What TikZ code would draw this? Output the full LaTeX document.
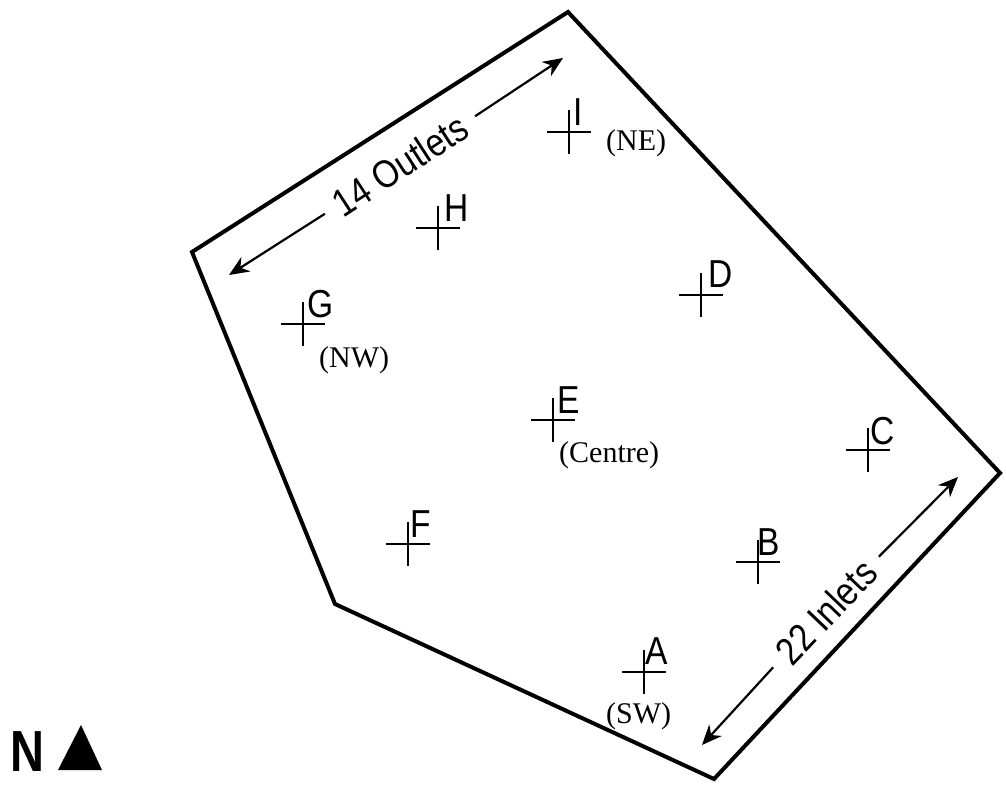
\documentclass[tikz,border=0pt]{standalone}
\usepackage{fontspec}
\setmainfont{Liberation Serif}
\setsansfont{Liberation Sans}
\usetikzlibrary{arrows.meta,positioning}

\begin{document}
\begin{tikzpicture}[
    x=1pt, y=-1pt,
    wall/.style={line width=4pt, line join=miter},
    site/.style={line width=1.8pt},
    letter/.style={font=\sffamily\fontsize{39}{39}\selectfont, inner sep=0pt, anchor=base west, xscale=0.86},
    where/.style={font=\fontsize{30}{30}\selectfont, inner sep=0pt, anchor=base west},
    span/.style={font=\sffamily\fontsize{39}{39}\selectfont, inner xsep=15pt, inner ysep=0pt, xscale=0.86},
    arr/.style={-{Stealth[length=20pt, width=17pt]}, line width=2.2pt},
]
\useasboundingbox (0,0) rectangle (1006,789);

% Boundary
\draw[wall] (192,252) -- (568,12) -- (1000,473) -- (714,779) -- (335,604) -- cycle;

% Sampling points
\foreach \n/\x/\y/\lx/\ly in {A/644/672/645/664, B/758/562/757/555, C/868/450/870/444,
    D/701/295/708/287, E/553/420/557/413, F/408/544/410/537,
    G/303/324/307/317, H/438/228/444/221, I/569/132/573/125} {
  \coordinate (p\n) at (\x,\y);
  \draw[site] (\x-22,\y) -- (\x+22,\y) (\x,\y-22) -- (\x,\y+22);
  \node[letter] (l\n) at (\lx,\ly) {\n};
}

% Directions
\node[where] (ne) at (606,150) {(NE)};
\node[where] (nw) at (319,367) {(NW)};
\node[where] (centre) at (559,462) {(Centre)};
\node[where] (sw) at (606,723) {(SW)};

% Outlets along the north-west side
\node[rotate=33, span] (outlets) at (400,165) {14 Outlets};
\coordinate (outW) at (229,275);
\coordinate (outE) at (563,58);
\draw[arr] (outlets.west) -- (outW);
\draw[arr] (outlets.east) -- (outE);

% Inlets along the south-east side
\node[rotate=46.3, span] (inlets) at (826,612) {22 Inlets};
\coordinate (inW) at (702,745);
\coordinate (inE) at (958,477);
\draw[arr] (inlets.west) -- (inW);
\draw[arr] (inlets.east) -- (inE);

% North mark
\node[font=\sffamily\bfseries\fontsize{58}{58}\selectfont, inner sep=0pt, anchor=base west, xscale=0.81] (north) at (10,771) {N};
\fill (58,770) -- (81,725) -- (102,770) -- cycle;

\end{tikzpicture}
\end{document}
